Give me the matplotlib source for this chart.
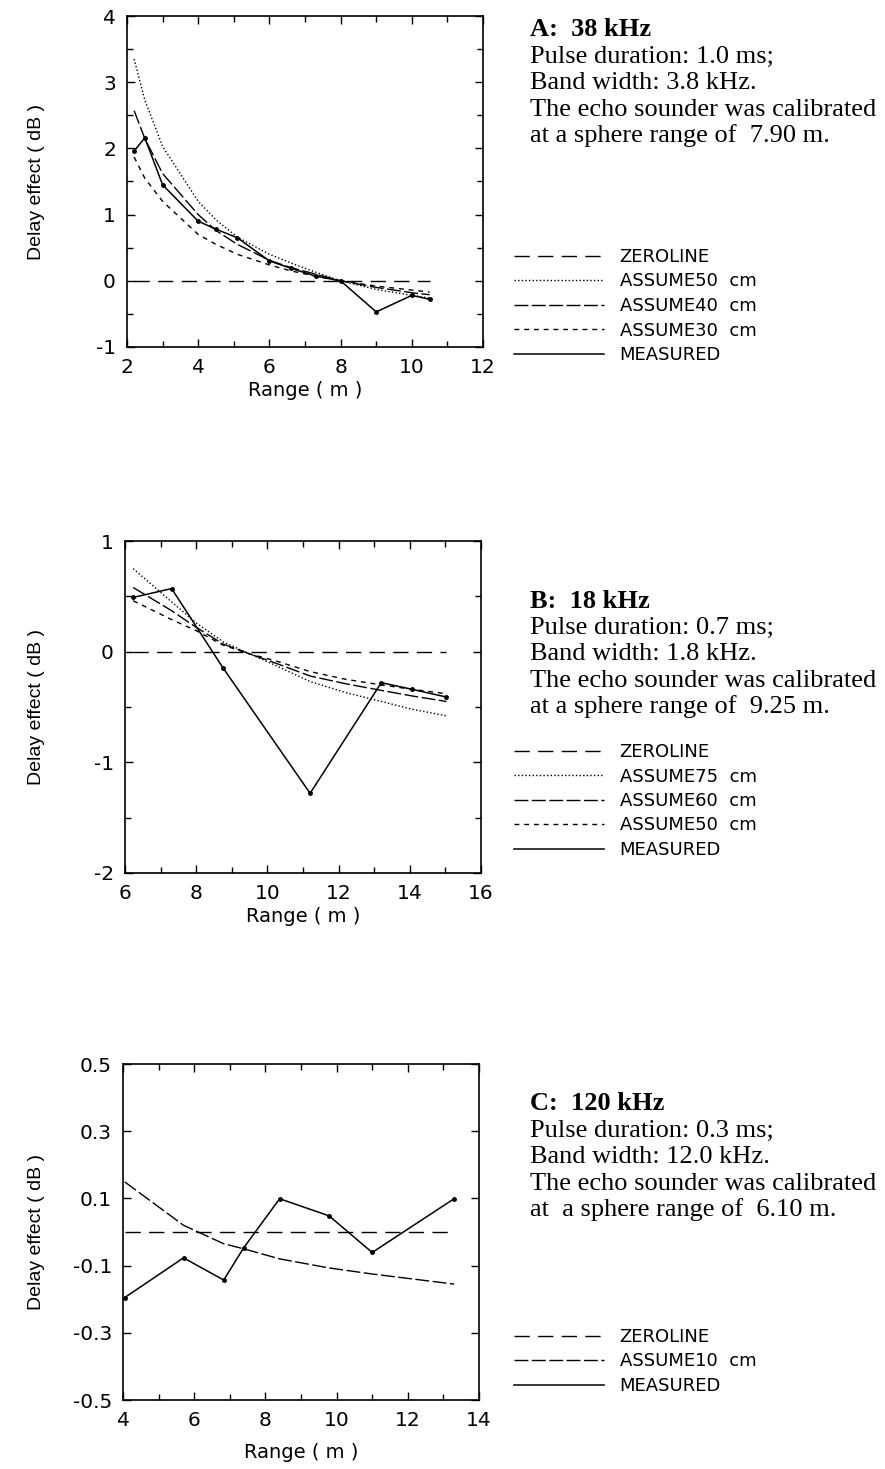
import matplotlib

matplotlib.use("Agg")
import matplotlib.pyplot as plt
import numpy as np

plt.rcParams["axes.unicode_minus"] = False

# ---- panel A: 38 kHz ----
a_range = [2.2, 2.5, 3.0, 4.0, 4.5, 5.1, 6.0, 6.6, 7.3, 8.0, 9.0, 10.0, 10.5]
a_measured = [1.96, 2.16, 1.45, 0.90, 0.78, 0.65, 0.30, 0.19, 0.07, 0.0, -0.47, -0.22, -0.28]
a_assume50 = [3.35, 2.73, 2.03, 1.20, 0.92, 0.66, 0.40, 0.27, 0.13, 0.0, -0.13, -0.22, -0.26]
a_assume40 = [2.57, 2.15, 1.62, 1.00, 0.76, 0.55, 0.31, 0.20, 0.10, 0.0, -0.10, -0.18, -0.21]
a_assume30 = [1.87, 1.55, 1.20, 0.70, 0.55, 0.40, 0.24, 0.15, 0.07, 0.0, -0.08, -0.14, -0.17]

# ---- panel B: 18 kHz ----
b_range = [6.23, 7.31, 8.75, 11.2, 13.2, 14.06, 15.03]
b_measured = [0.49, 0.57, -0.145, -1.28, -0.28, -0.34, -0.41]
b_model_range = [6.23, 7.31, 8.0, 8.75, 9.5, 10.2, 11.2, 12.2, 13.2, 14.06, 15.03]
b_assume75 = [0.75, 0.45, 0.26, 0.09, -0.02, -0.12, -0.27, -0.37, -0.45, -0.52, -0.58]
b_assume60 = [0.58, 0.37, 0.22, 0.07, -0.02, -0.10, -0.22, -0.29, -0.35, -0.40, -0.45]
b_assume50 = [0.46, 0.29, 0.19, 0.06, -0.02, -0.08, -0.18, -0.25, -0.30, -0.34, -0.38]

# ---- panel C: 120 kHz ----
c_range = [4.05, 5.7, 6.83, 7.39, 8.4, 9.79, 11.0, 13.3]
c_measured = [-0.195, -0.077, -0.143, -0.047, 0.099, 0.048, -0.061, 0.099]
c_assume10 = [0.149, 0.02, -0.035, -0.05, -0.08, -0.107, -0.125, -0.155]

ZERO = (0, (11, 6))
LONG = (0, (10, 2.5))
SHORT = (0, (3.5, 3.5))
DOT = (0, (1, 1.6))

W, H = 885, 1469
SANS = "DejaVu Sans"
SERIF = "Liberation Serif"

fig = plt.figure(figsize=(W / 100, H / 100), dpi=100)


def add_axes(left, right, top, bottom):
    ax = fig.add_axes([left / W, 1 - bottom / H, (right - left) / W, (bottom - top) / H])
    return ax, (left, right, top, bottom)


def style_axes(ax, box, xlim, ylim, xmaj, xmin, ymaj, ymin, yfmt, xlab_y):
    left, right, top, bottom = box
    ax.set_xlim(*xlim)
    ax.set_ylim(*ylim)
    ax.set_xticks(xmaj)
    ax.set_xticks(xmin, minor=True)
    ax.set_yticks(ymaj)
    ax.set_yticks(ymin, minor=True)
    ax.set_yticklabels([yfmt.format(v) for v in ymaj])
    ax.set_xticklabels([f"{v:g}" for v in xmaj])
    for lab in ax.get_xticklabels() + ax.get_yticklabels():
        lab.set_fontfamily(SANS)
        lab.set_fontsize(14.5)
    ax.tick_params(which="both", direction="in", top=True, right=True, width=1)
    ax.tick_params(which="major", length=6, pad=8)
    ax.tick_params(which="minor", length=4)
    for sp in ax.spines.values():
        sp.set_linewidth(1.2)
    ax.set_xlabel("Range ( m )", fontfamily=SANS, fontsize=14)
    ax.xaxis.label.set_verticalalignment("center")
    ax.xaxis.set_label_coords(0.5, -(xlab_y - bottom) / (bottom - top))
    ax.set_ylabel("Delay effect ( dB )", fontfamily="Liberation Sans", fontsize=14)
    ax.yaxis.label.set_verticalalignment("center")
    ax.yaxis.set_label_coords((37 - left) / (right - left), 0.5)


def info_text(y0, lines):
    for i, line in enumerate(lines):
        fig.text(530 / W, 1 - (y0 + i * 26.5) / H, line, fontfamily=SERIF,
                 fontsize=19, fontweight="bold" if i == 0 else "normal",
                 va="center", ha="left")


def legend(ax, y0):
    ax.legend(loc="upper left", bbox_to_anchor=(514 / W, 1 - y0 / H),
              bbox_transform=fig.transFigure, frameon=False, handlelength=5.0,
              handletextpad=0.85, labelspacing=0.36, borderpad=0, borderaxespad=0,
              prop=dict(family=SANS, size=13))


# panel A
ax, box = add_axes(127, 483, 16, 347)
ax.plot([a_range[0], a_range[-1]], [0, 0], color="k", lw=1, linestyle=ZERO, label="ZEROLINE")
ax.plot(a_range, a_assume50, color="k", lw=1, linestyle=DOT, label="ASSUME50  cm")
ax.plot(a_range, a_assume40, color="k", lw=1, linestyle=LONG, label="ASSUME40  cm")
ax.plot(a_range, a_assume30, color="k", lw=1, linestyle=SHORT, label="ASSUME30  cm")
ax.plot(a_range, a_measured, color="k", lw=1.1, label="MEASURED")
ax.plot(a_range, a_measured, "o", color="k", ms=2.5)
style_axes(ax, box, (2, 12), (-1, 4), range(2, 13, 2), range(3, 12, 2),
           range(-1, 5), np.arange(-0.5, 4, 1.0), "{:d}", 391)
legend(ax, 248)
info_text(30, ["A:  38 kHz", "Pulse duration: 1.0 ms;", "Band width: 3.8 kHz.",
               "The echo sounder was calibrated", "at a sphere range of  7.90 m."])

# panel B
ax, box = add_axes(125, 481, 541, 873)
ax.plot([b_range[0], b_range[-1]], [0, 0], color="k", lw=1, linestyle=ZERO, label="ZEROLINE")
ax.plot(b_model_range, b_assume75, color="k", lw=1, linestyle=DOT, label="ASSUME75  cm")
ax.plot(b_model_range, b_assume60, color="k", lw=1, linestyle=LONG, label="ASSUME60  cm")
ax.plot(b_model_range, b_assume50, color="k", lw=1, linestyle=SHORT, label="ASSUME50  cm")
ax.plot(b_range, b_measured, color="k", lw=1.1, label="MEASURED")
ax.plot(b_range, b_measured, "o", color="k", ms=2.5)
style_axes(ax, box, (6, 16), (-2, 1), range(6, 17, 2), range(7, 16, 2),
           range(-2, 2), np.arange(-1.5, 1, 1.0), "{:d}", 916)
legend(ax, 743)
info_text(601, ["B:  18 kHz", "Pulse duration: 0.7 ms;", "Band width: 1.8 kHz.",
                "The echo sounder was calibrated", "at a sphere range of  9.25 m."])

# panel C
ax, box = add_axes(123, 479, 1064, 1400)
ax.plot([c_range[0], c_range[-1]], [0, 0], color="k", lw=1, linestyle=ZERO, label="ZEROLINE")
ax.plot(c_range, c_assume10, color="k", lw=1, linestyle=LONG, label="ASSUME10  cm")
ax.plot(c_range, c_measured, color="k", lw=1.1, label="MEASURED")
ax.plot(c_range, c_measured, "o", color="k", ms=2.5)
style_axes(ax, box, (4, 14), (-0.5, 0.5), range(4, 15, 2), range(5, 14, 2),
           [-0.5, -0.3, -0.1, 0.1, 0.3, 0.5], [], "{:.1f}", 1453)
legend(ax, 1328)
info_text(1104, ["C:  120 kHz", "Pulse duration: 0.3 ms;", "Band width: 12.0 kHz.",
                 "The echo sounder was calibrated", "at  a sphere range of  6.10 m."])

fig.savefig("out.png", dpi=100)
